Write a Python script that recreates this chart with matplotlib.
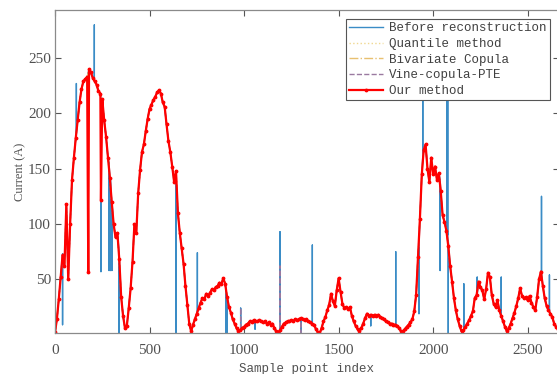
import numpy as np
import matplotlib
matplotlib.use("Agg")
import matplotlib.pyplot as plt

# ---------------- data ----------------
step = 10
our_val = [
    2, 14, 32, 52, 72, 62, 118, 50, 100, 140,            # 0-90
    160, 178, 194, 210, 222, 229, 231, 233, 240, 237,    # 100-190
    232, 229, 226, 220, 218, 213, 194, 179, 160, 142,    # 200-290
    120, 100, 88, 92, 68, 34, 17, 6, 8, 24,              # 300-390
    42, 66, 100, 92, 128, 149, 165, 172, 184, 195,       # 400-490
    204, 208, 212, 215, 219, 221, 218, 210, 206, 190,    # 500-590
    175, 165, 152, 138, 148, 110, 92, 78, 64, 44,        # 600-690
    27, 10, 3, 9, 14, 19, 24, 29, 33, 32,                # 700-790
    37, 35, 38, 41, 40, 43, 44, 47, 46, 51,              # 800-890
    46, 34, 25, 20, 14, 10, 6, 3, 4, 6,                  # 900-990
    7, 9, 10, 12, 11, 13, 12, 12, 13, 12,                # 1000-1090
    11, 12, 10, 11, 9, 10, 6, 3, 2, 4,                   # 1100-1190
    7, 10, 11, 12, 12, 13, 12, 14, 13, 14,               # 1200-1290
    15, 14, 13, 14, 12, 11, 10, 9, 5, 2,                 # 1300-1390
    1, 6, 12, 16, 22, 27, 37, 30, 26, 40,                # 1400-1490
    51, 39, 28, 24, 25, 23, 25, 17, 12, 8,               # 1500-1590
    5, 3, 6, 10, 15, 19, 17, 18, 17, 18,                 # 1600-1690
    17, 18, 16, 15, 14, 12, 11, 10, 10, 9,               # 1700-1790
    9, 8, 6, 3, 3, 5, 7, 9, 11, 14,                      # 1800-1890
    21, 36, 70, 105, 145, 167, 172, 150, 138, 160,       # 1900-1990
    145, 152, 140, 146, 130, 108, 102, 94, 80, 62,       # 2000-2090
    48, 33, 22, 14, 8, 3, 4, 7, 10, 13,                  # 2100-2190
    17, 21, 33, 36, 48, 43, 40, 32, 41, 56,              # 2200-2290
    52, 36, 28, 25, 31, 22, 17, 12, 7, 3,                # 2300-2390
    6, 10, 15, 20, 26, 33, 42, 35, 33, 34,               # 2400-2490
    31, 35, 29, 25, 22, 34, 50, 57, 44, 33,              # 2500-2590
    26, 22, 19, 16, 10, 7, 5,                            # 2600-2660
]
# isolated dips left in the proposed reconstruction
our_spike_idx = [176, 243]
our_spike_val = [57, 122]

# anomalies in the raw signal: index, curve value, spike tip
before_idx  = [40, 113, 176, 208, 243, 286, 293, 301, 339, 640, 753, 905, 910,
               982, 1058, 1190, 1300, 1361, 1670, 1802, 1925, 1945, 2037,
               2074, 2077, 2080, 2162, 2233, 2360, 2573, 2615]
before_base = [73, 182, 236, 231, 212, 155, 140, 120, 75, 140, 20, 40, 35,
               5, 12, 2, 15, 10, 18, 9, 80, 160, 140,
               94, 90, 85, 4, 36, 17, 57, 21]
before_tip  = [9, 227, 57, 280, 57, 58, 58, 58, 1.5, 1.5, 74, 1.5, 1.5,
               24, 5, 93, 2, 81, 8, 75, 19, 230, 58,
               240, 240, 1.5, 46, 52, 52, 125, 54]

vine_idx  = [982, 1190, 1300]
vine_base = [5, 2, 15]
vine_tip  = [24, 62, 2]

labels = ["Before reconstruction", "Quantile method", "Bivariate Copula",
          "Vine-copula-PTE", "Our method"]
xticks = [0, 500, 1000, 1500, 2000, 2500]
yticks = [50, 100, 150, 200, 250]

# ---------------- build series ----------------
base_x = np.arange(len(our_val)) * step
base_y = np.array(our_val, dtype=float)


def merge(xs, ys, add_x, add_y):
    x = np.concatenate([xs, np.asarray(add_x, float)])
    y = np.concatenate([ys, np.asarray(add_y, float)])
    o = np.argsort(x, kind="stable")
    return x[o], y[o]


def with_spikes(idx, base, tip):
    ax_, ay_ = [], []
    for i, b, t in zip(idx, base, tip):
        ax_ += [i, i, i]
        ay_ += [b, t, b]
    return merge(base_x.astype(float), base_y, ax_, ay_)


bx, by = with_spikes(before_idx, before_base, before_tip)
vx, vy = with_spikes(vine_idx, vine_base, vine_tip)
ox, oy = merge(base_x.astype(float), base_y, our_spike_idx, our_spike_val)

# ---------------- plot ----------------
fig = plt.figure(figsize=(5.57, 3.74), dpi=100)
ax = fig.add_axes([55 / 557, 41 / 374, 503.7 / 557, 323 / 374])

ax.plot(bx, by, color="#3a8cc6", lw=1.0, label=labels[0])
ax.plot(base_x, base_y, color="#f0d890", lw=1.0, ls=":", label=labels[1])
ax.plot(base_x, base_y, color="#e8c070", lw=1.0, ls="-.", label=labels[2])
ax.plot(vx, vy, color="#9a7aa0", lw=1.0, ls="--", label=labels[3])
ax.plot(ox, oy, color="#ff0000", lw=1.6, marker=".", ms=3.5, label=labels[4])

ax.set_xlim(0, 2664)
ax.set_ylim(1.5, 293.5)
ax.set_xticks(xticks)
ax.set_yticks(yticks)

for lab in ax.get_xticklabels() + ax.get_yticklabels():
    lab.set_fontfamily("Liberation Serif")
    lab.set_fontsize(11)
ax.tick_params(direction="in", length=4, width=0.8, colors="#555555",
               top=True, right=True, labelcolor="#505050")
ax.tick_params(axis="x", pad=8)
ax.tick_params(axis="y", pad=3)
for s in ax.spines.values():
    s.set_color("#8a8a8a")
    s.set_linewidth(0.9)

ax.set_xlabel("Sample point index", family="Liberation Mono", fontsize=9,
              color="#505050", labelpad=4)
ax.set_ylabel("Current (A)", family="Liberation Serif", fontsize=9,
              color="#505050", labelpad=1)

leg = ax.legend(loc="upper right", bbox_to_anchor=(550 / 557, 1 - 19 / 374),
                bbox_transform=fig.transFigure, borderaxespad=0,
                prop=dict(family="Liberation Mono", size=9),
                fancybox=False, framealpha=1, edgecolor="#555555",
                handlelength=2.65, handletextpad=0.55, borderpad=0.25,
                labelspacing=0.3, numpoints=1)
leg.get_frame().set_linewidth(0.8)
for t in leg.get_texts():
    t.set_color("#404040")

fig.savefig("out.png", dpi=100)
